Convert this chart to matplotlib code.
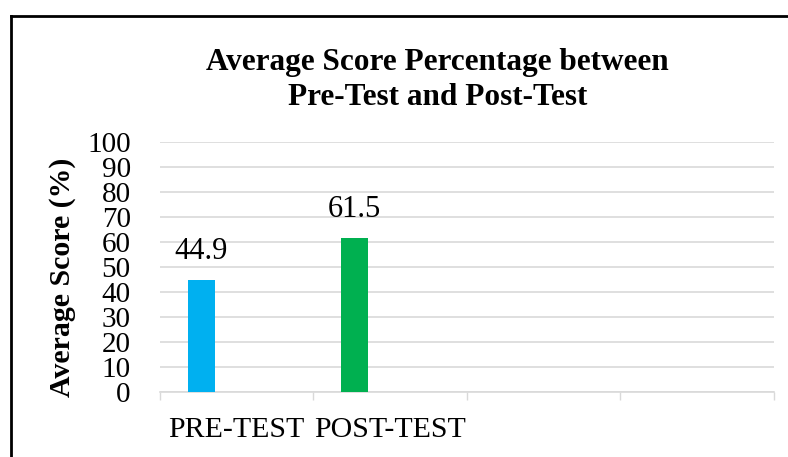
import numpy as np
import matplotlib.pyplot as plt
from matplotlib.lines import Line2D

categories = ['PRE-TEST', 'POST-TEST', '', '']
scores = [44.9, 61.5]
bar_colors = ['#00B0F0', '#00B050']
yticks = np.arange(0, 101, 10)

plt.rcParams['font.family'] = ['Liberation Serif', 'DejaVu Serif']

fig = plt.figure(figsize=(7.88, 4.57), dpi=100)
ax = fig.add_axes([0.203, 0.1422, 0.779, 0.5471])

x = np.arange(len(categories))
offset = -0.23
bars = ax.bar(x[:len(scores)] + offset, scores, width=0.176,
              color=bar_colors, zorder=3)
for b, v in zip(bars, scores):
    ax.text(b.get_x() + b.get_width() / 2, v + 11.5, f'{v}',
            ha='center', va='center', fontsize=22)

ax.set_xlim(-0.5, len(categories) - 0.5)
ax.set_ylim(0, 100)
ax.set_yticks(yticks)
ax.set_yticklabels([str(t) for t in yticks], fontsize=21)
ax.tick_params(axis='y', length=0, pad=21)

ax.set_xticks(x)
ax.set_xticklabels(categories, fontsize=21.5)
ax.tick_params(axis='x', which='major', length=0, pad=18)
ax.set_xticks(np.arange(-0.5, len(categories), 1.0), minor=True)
ax.tick_params(axis='x', which='minor', length=6, width=1, color='#d9d9d9')

ax.grid(axis='y', color='#d9d9d9', linewidth=1.2, zorder=0)
for s in ['top', 'right', 'left']:
    ax.spines[s].set_visible(False)
ax.spines['bottom'].set_color('#d9d9d9')
ax.spines['bottom'].set_linewidth(1.2)

ax.set_ylabel('Average Score (%)', fontsize=21.5, fontweight='bold')
ax.yaxis.set_label_coords(-0.137, 0.46)
fig.text(0.555, 1 - 80 / 457, 'Average Score Percentage between\nPre-Test and Post-Test',
         ha='center', va='center', fontsize=22.5, fontweight='bold',
         linespacing=1.3)

# outer frame (cropped on the right and bottom)
fig.add_artist(Line2D([11 / 788, 11 / 788], [0, 1 - 16 / 457], color='black', lw=2))
fig.add_artist(Line2D([11 / 788, 1], [1 - 16 / 457, 1 - 16 / 457], color='black', lw=2))

fig.savefig('out.png', dpi=100)
